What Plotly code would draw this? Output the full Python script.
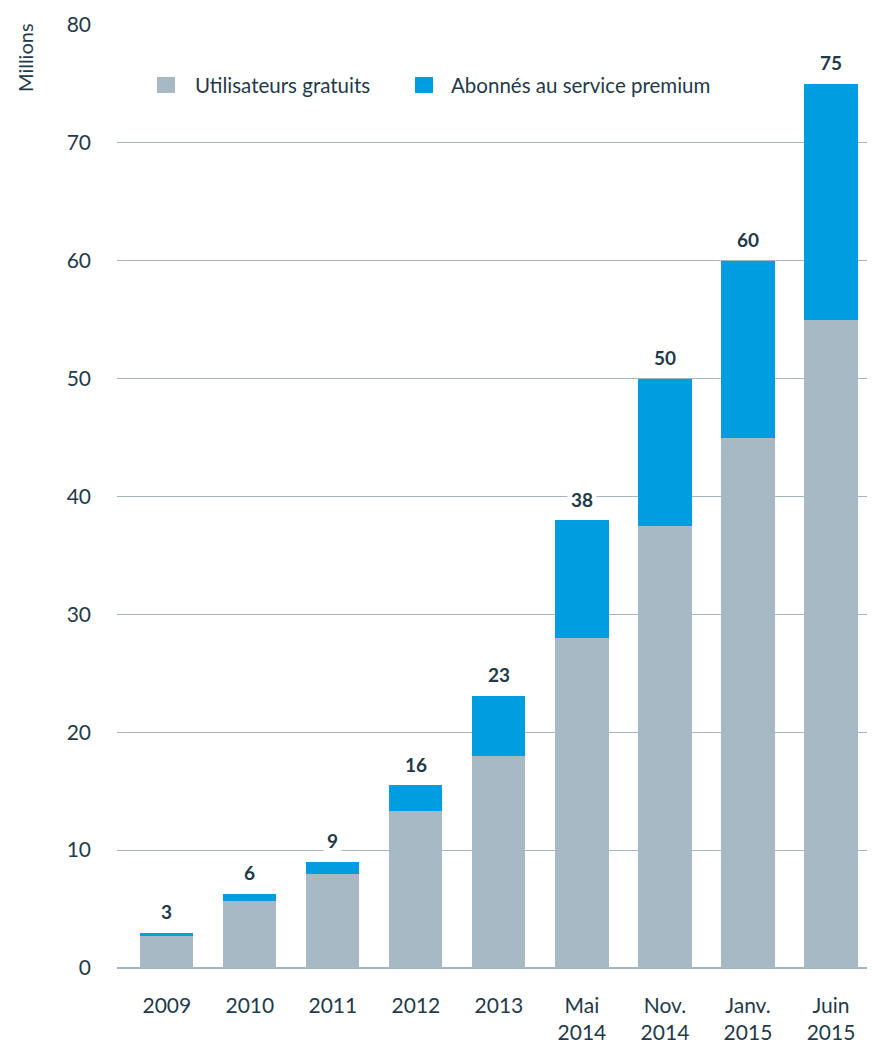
import plotly.graph_objects as go

categories = ["2009", "2010", "2011", "2012", "2013", "Mai<br>2014", "Nov.<br>2014", "Janv.<br>2015", "Juin<br>2015"]
gratuits = [2.7, 5.7, 8.0, 13.3, 18.0, 28.0, 37.5, 45.0, 55.0]
premium = [0.3, 0.6, 1.0, 2.2, 5.1, 10.0, 12.5, 15.0, 20.0]
totals = [3, 6, 9, 16, 23, 38, 50, 60, 75]
y_ticks = [0, 10, 20, 30, 40, 50, 60, 70, 80]
series_names = ["Utilisateurs gratuits", "Abonnés au service premium"]
series_colors = ["#a7b9c4", "#009ee0"]

TEXT = "#1f3a4a"
GRID = "#a3b6c2"
FONT = "Lato"

idx = list(range(len(categories)))

fig = go.Figure()
fig.add_trace(go.Bar(x=idx, y=gratuits, name=series_names[0],
                     marker=dict(color=series_colors[0], line=dict(width=0))))
fig.add_trace(go.Bar(x=idx, y=premium, name=series_names[1],
                     marker=dict(color=series_colors[1], line=dict(width=0))))

sums = [g + p for g, p in zip(gratuits, premium)]
for i, s, t in zip(idx, sums, totals):
    fig.add_annotation(x=i, y=s, xref="x", yref="y", text=f"<b>{t}</b>", showarrow=False,
                       yanchor="middle", yshift=21, bgcolor="white", borderpad=3,
                       font=dict(family=FONT, size=19, color=TEXT))

# axis title "Millions"
fig.add_annotation(x=-0.1214, y=0.966, xref="paper", yref="paper", text="Millions",
                   textangle=-90, showarrow=False, xanchor="center", yanchor="middle",
                   font=dict(family=FONT, size=20, color=TEXT))

# legend (drawn manually to match square size and spacing)
legend_sq = [(0.0528, 0.0765), (0.3931, 0.4169)]
legend_tx = [0.1003, 0.438]
for (x0, x1), tx, name, col in zip(legend_sq, legend_tx, series_names, series_colors):
    fig.add_shape(type="rect", xref="paper", yref="paper", x0=x0, x1=x1,
                  y0=0.9279, y1=0.9449, fillcolor=col, line=dict(width=0))
    fig.add_annotation(x=tx, y=0.9364, xref="paper", yref="paper", text=name,
                       showarrow=False, xanchor="left", yanchor="middle",
                       font=dict(family=FONT, size=20.5, color=TEXT))

fig.update_layout(
    barmode="stack",
    bargap=0.36,
    width=867, height=1037,
    margin=dict(l=109, r=0, t=17, b=77),
    plot_bgcolor="white", paper_bgcolor="white",
    font=dict(family=FONT, color=TEXT, size=19),
    showlegend=False,
    xaxis=dict(type="linear", range=[-0.6, 8.53], showgrid=False, ticks="", showline=False,
               zeroline=False, tickvals=idx, ticktext=categories, automargin=False,
               tickfont=dict(family=FONT, size=21, color=TEXT), ticklabelstandoff=23),
    yaxis=dict(range=[0, 80], tickvals=y_ticks, showgrid=True, gridcolor=GRID, gridwidth=1,
               zeroline=True, zerolinecolor=GRID, zerolinewidth=2, showline=False, ticks="",
               automargin=False,
               tickfont=dict(family=FONT, size=21, color=TEXT), ticklabelstandoff=25),
)

fig.write_html("out.html")
